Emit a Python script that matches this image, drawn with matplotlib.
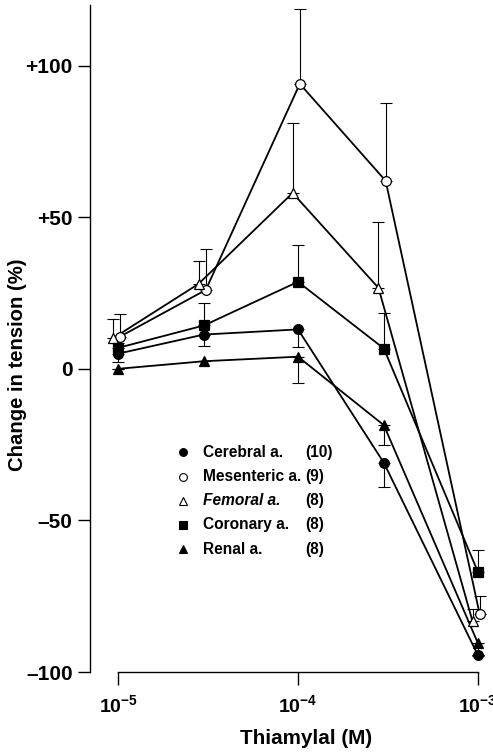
import numpy as np
import matplotlib
matplotlib.use("Agg")
import matplotlib.pyplot as plt

plt.rcParams['font.family'] = ['Liberation Sans', 'DejaVu Sans']
plt.rcParams['font.weight'] = 'bold'
plt.rcParams['mathtext.fontset'] = 'custom'
plt.rcParams['mathtext.rm'] = 'Liberation Sans:bold'
plt.rcParams['mathtext.bf'] = 'Liberation Sans:bold'

# thiamylal concentration (M)
conc = [1e-5, 3e-5, 1e-4, 3e-4, 1e-3]

cerebral = [5.0, 11.3, 13.0, -31.0, -94.5]
cerebral_err = [2.6, 3.8, 5.8, 8.0, 0.0]
mesenteric = [10.6, 26.0, 94.0, 62.0, -81.0]
mesenteric_err = [7.6, 13.4, 24.6, 25.8, 6.0]
femoral = [10.0, 28.0, 58.0, 26.7, -83.3]
femoral_err = [6.4, 7.5, 23.0, 21.7, 4.2]
coronary = [6.9, 14.3, 28.7, 6.7, -67.0]
coronary_err = [1.5, 7.5, 12.0, 11.8, 7.2]
renal = [0.0, 2.5, 4.0, -18.6, -90.5]
renal_err = [0.0, 0.0, 8.8, 6.4, 4.2]

names = ['Cerebral a.', 'Mesenteric a.', 'Femoral a.', 'Coronary a.', 'Renal a.']
counts = ['(10)', '(9)', '(8)', '(8)', '(8)']

ytick_vals = [-100, -50, 0, 50, 100]
ytick_labels = ['\u2013100', '\u201350', '0', '+50', '+100']
xtick_vals = [1e-5, 1e-4, 1e-3]
xtick_labels = [r'$\mathbf{10^{-5}}$', r'$\mathbf{10^{-4}}$', r'$\mathbf{10^{-3}}$']

# marker, face colour, error direction (+1 up, -1 down), small x dodge in decades
series = [
    (cerebral, cerebral_err, 'o', 'black', -1, 0.0),
    (mesenteric, mesenteric_err, 'o', 'white', 1, 0.01),
    (femoral, femoral_err, '^', 'white', 1, -0.03),
    (coronary, coronary_err, 's', 'black', 1, 0.0),
    (renal, renal_err, '^', 'black', -1, 0.0),
]
msizes = {'o': 7.0, 's': 6.8, '^': 7.5}

fig = plt.figure(figsize=(4.93, 7.52), dpi=100)
ax = fig.add_axes([90 / 493, 1 - 672 / 752, 400 / 493, 667 / 752])

for vals, errs, mk, fc, direction, dodge in series:
    x = np.array(conc) * 10 ** dodge
    v = np.array(vals)
    e = np.array(errs)
    if direction > 0:
        yerr = [np.zeros_like(e), e]
    else:
        yerr = [e, np.zeros_like(e)]
    ax.errorbar(x, v, yerr=yerr, fmt='none', ecolor='black', elinewidth=0.8,
                capsize=4.5, capthick=0.8, zorder=2)
    ax.plot(x, v, color='black', lw=1.3, zorder=3)
    ax.plot(x, v, linestyle='none', marker=mk, ms=msizes[mk], mfc=fc,
            mec='black', mew=0.9, zorder=4)

ax.set_xscale('log')
ax.set_xlim(10 ** -5.156, 10 ** -2.933)
ax.set_ylim(-100, 120)

ax.spines['top'].set_visible(False)
ax.spines['right'].set_visible(False)
ax.spines['left'].set_linewidth(1.0)
ax.spines['bottom'].set_linewidth(1.0)
ax.spines['bottom'].set_bounds(1e-5, 1e-3)

ax.set_yticks(ytick_vals)
ax.set_yticklabels(ytick_labels, fontsize=15, fontweight='bold')
ax.set_xticks(xtick_vals)
ax.set_xticklabels(xtick_labels, fontsize=14)
ax.xaxis.set_minor_locator(matplotlib.ticker.NullLocator())
ax.tick_params(axis='y', direction='out', length=8.5, width=1.0, pad=4)
ax.tick_params(axis='x', direction='out', length=9, width=1.0, pad=7)

# legend drawn by hand so the counts line up in their own column
row_y = [0.3298, 0.2924, 0.2564, 0.2204, 0.1844]
for (vals, errs, mk, fc, direction, dodge), name, n, yy in zip(series, names, counts, row_y):
    ax.plot([0.2325], [yy], transform=ax.transAxes, linestyle='none', marker=mk,
            ms=msizes[mk] * 0.8, mfc=fc, mec='black', mew=0.8, clip_on=False)
    style = 'italic' if name.startswith('Femoral') else 'normal'
    ax.text(0.2825, yy, name, transform=ax.transAxes, fontsize=11.2, fontweight='bold',
            fontstyle=style, va='center', ha='left')
    ax.text(0.5375, yy, n, transform=ax.transAxes, fontsize=11.2, fontweight='bold',
            va='center', ha='left')

fig.text(18 / 493, 1 - 365 / 752, 'Change in tension (%)', rotation=90,
         fontsize=14.6, fontweight='bold', ha='center', va='center')
fig.text(306 / 493, 1 - 739 / 752, 'Thiamylal (M)', fontsize=14.9,
         fontweight='bold', ha='center', va='center')

fig.savefig('out.png', dpi=100)
